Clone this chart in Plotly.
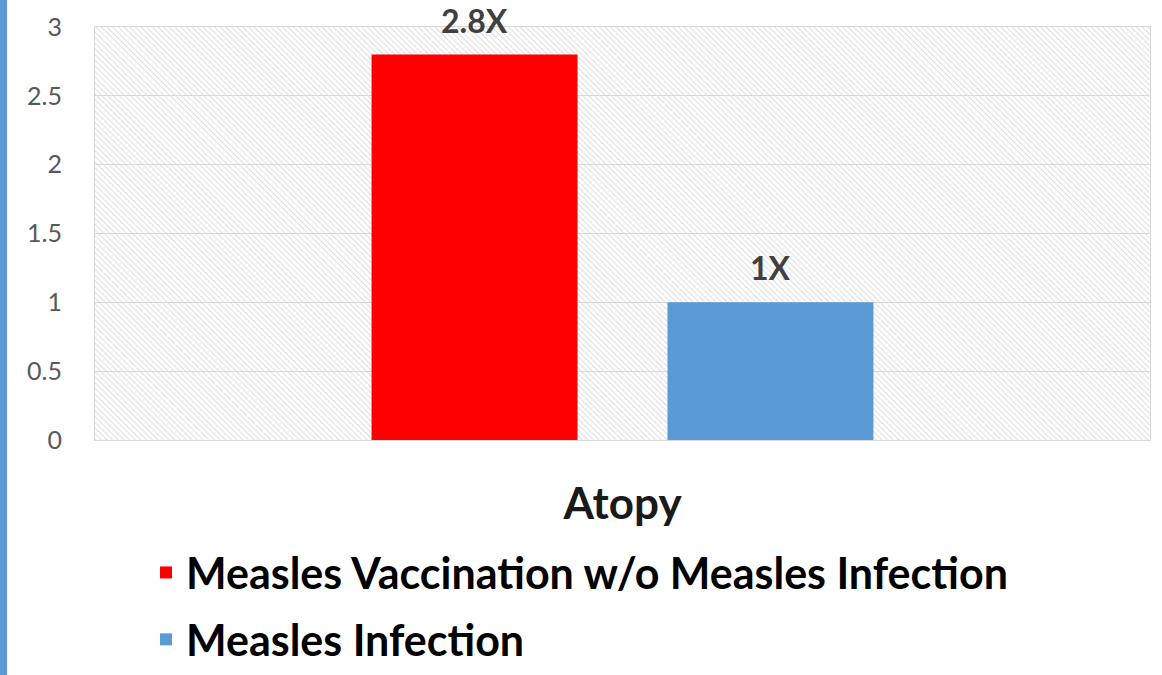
import base64
import plotly.graph_objects as go

categories = ["Atopy"]
series_names = ["Measles Vaccination w/o Measles Infection", "Measles Infection"]
series_values = [[2.8], [1.0]]
series_labels = [["2.8X"], ["1X"]]
series_colors = ["#ff0000", "#5b9bd5"]
y_ticks = [0, 0.5, 1, 1.5, 2, 2.5, 3]
y_tick_text = ["0", "0.5", "1", "1.5", "2", "2.5", "3"]

FONT = "Lato, 'Open Sans', sans-serif"
W, H = 1162, 675
ML, MR, MT, MB = 95, 12, 27, 235
PW, PH = W - ML - MR, H - MT - MB
BARGAP, BARGROUPGAP = 0.439, 0.304

fig = go.Figure()
for i, (name, vals, col) in enumerate(zip(series_names, series_values, series_colors)):
    fig.add_trace(go.Bar(
        x=categories, y=vals, name=f"<b>{name}</b>",
        marker=dict(color=col, line=dict(width=0)),
        legendgroup=f"g{i}",
    ))

# data labels above bars
n = len(series_names)
gw = 1 - BARGAP
slot = gw / n
for i, labels in enumerate(series_labels):
    for ci, (lab, v) in enumerate(zip(labels, series_values[i])):
        fig.add_annotation(
            x=ci - gw / 2 + slot * (i + 0.5), y=v, xref="x", yref="y",
            text=f"<b>{lab}</b>", showarrow=False, yanchor="bottom", yshift=13,
            font=dict(family=FONT, size=32, color="#404040"),
        )

svg = (
    f'<svg xmlns="http://www.w3.org/2000/svg" width="{PW}" height="{PH}">'
    '<defs><pattern id="p" width="4" height="4" patternUnits="userSpaceOnUse" '
    'patternTransform="rotate(-45)"><line x1="0" y1="0" x2="0" y2="4" '
    'stroke="#d6d6d6" stroke-width="1.6"/></pattern></defs>'
    '<rect width="100%" height="100%" fill="url(#p)"/></svg>'
)
src = "data:image/svg+xml;base64," + base64.b64encode(svg.encode()).decode()
fig.add_layout_image(dict(source=src, xref="paper", yref="paper", x=0, y=1,
                          sizex=1, sizey=1, sizing="stretch", xanchor="left",
                          yanchor="top", layer="below"))

# left blue accent bar
fig.add_shape(type="rect", xref="paper", yref="paper",
              x0=(0 - ML) / PW, x1=(7 - ML) / PW,
              y0=-MB / PH, y1=1 + MT / PH,
              fillcolor="#5b9bd5", line=dict(width=0), layer="above")

fig.update_layout(
    width=W, height=H,
    margin=dict(l=ML, r=MR, t=MT, b=MB, pad=0, autoexpand=False),
    paper_bgcolor="white", plot_bgcolor="rgba(0,0,0,0)",
    barmode="group", bargap=BARGAP, bargroupgap=BARGROUPGAP,
    font=dict(family=FONT),
    showlegend=True,
    legend=dict(
        orientation="v", x=(146 - ML) / PW, xanchor="left",
        y=(440 - 538) / PH, yanchor="top",
        font=dict(family=FONT, size=43, color="#000000"),
        tracegroupgap=8, bgcolor="rgba(0,0,0,0)",
        itemwidth=30,
    ),
)
fig.update_xaxes(
    showgrid=False, showline=True, linecolor="#d9d9d9", linewidth=1, mirror=True,
    tickfont=dict(family=FONT, size=44, color="#1a1a1a", weight="bold"),
    ticks="", ticklabelstandoff=25,
)
fig.update_yaxes(
    range=[0, 3], tickvals=y_ticks, ticktext=y_tick_text,
    showgrid=True, gridcolor="#d9d9d9", gridwidth=1,
    showline=True, linecolor="#d9d9d9", linewidth=1, mirror=True,
    zeroline=False, ticks="",
    tickfont=dict(family=FONT, size=25, color="#595959"),
    ticklabelstandoff=27,
)

fig.write_html("out.html", config={"displayModeBar": False},
               post_script="document.body.style.margin='0';")
